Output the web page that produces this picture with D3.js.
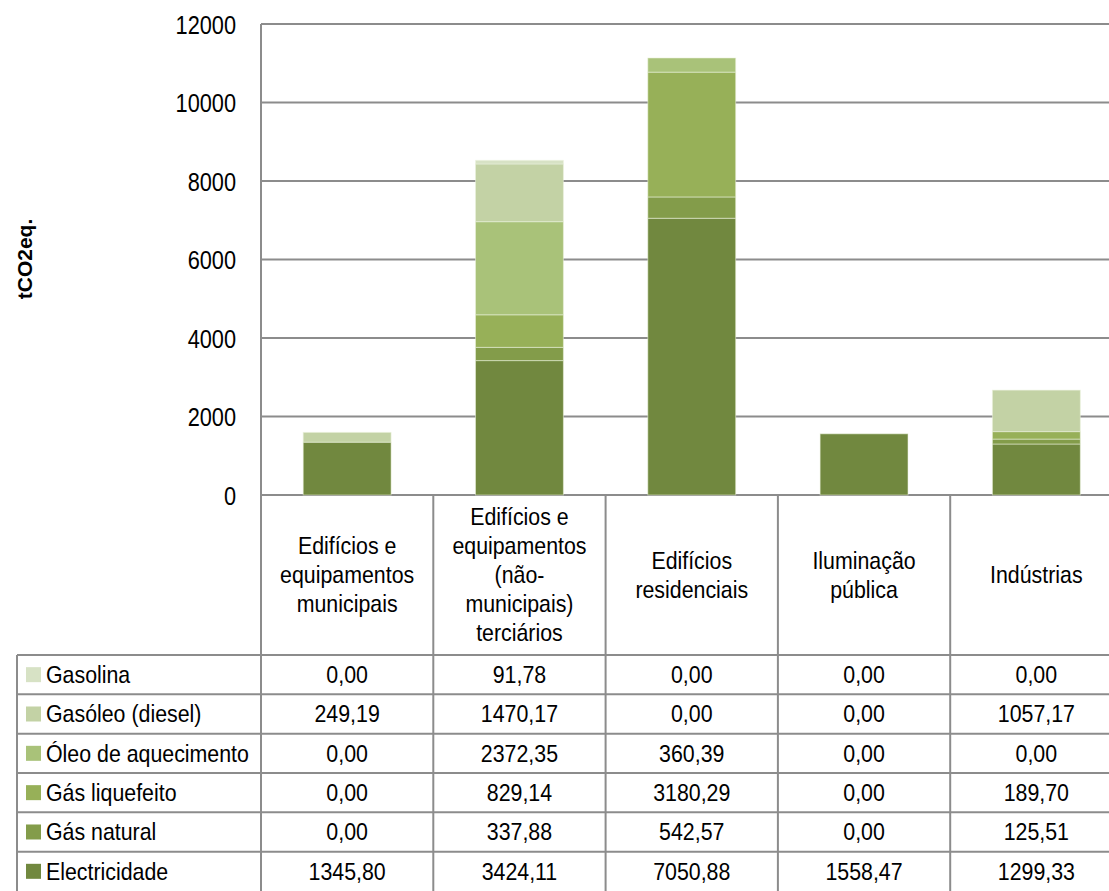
<!DOCTYPE html>
<html>
<head>
<meta charset="utf-8">
<script src="https://cdn.jsdelivr.net/npm/d3@7"></script>
<style>
  html, body { margin: 0; padding: 0; background: #fff; }
  svg { display: block; }
  text { font-family: "Liberation Sans", Arial, sans-serif; fill: #000; }
</style>
</head>
<body>
<svg id="chart" width="1109" height="891"></svg>
<script>
// Emission sectors (columns) and their header text lines
const categories = [
  "Edifícios e equipamentos municipais",
  "Edifícios e equipamentos (não-municipais) terciários",
  "Edifícios residenciais",
  "Iluminação pública",
  "Indústrias"
];
const categoryLines = [
  ["Edifícios e", "equipamentos", "municipais"],
  ["Edifícios e", "equipamentos", "(não-", "municipais)", "terciários"],
  ["Edifícios", "residenciais"],
  ["Iluminação", "pública"],
  ["Indústrias"]
];

// Energy sources, listed bottom of stack first
const sources = ["Electricidade", "Gás natural", "Gás liquefeito", "Óleo de aquecimento", "Gasóleo (diesel)", "Gasolina"];
const colors  = ["#71883f", "#839c4a", "#97b058", "#a9c279", "#c3d2a5", "#d7e2c5"];

// tCO2eq per source and sector
const electricidade      = [1345.80, 3424.11, 7050.88, 1558.47, 1299.33];
const gasNatural         = [0.00, 337.88, 542.57, 0.00, 125.51];
const gasLiquefeito      = [0.00, 829.14, 3180.29, 0.00, 189.70];
const oleoAquecimento    = [0.00, 2372.35, 360.39, 0.00, 0.00];
const gasoleo            = [249.19, 1470.17, 0.00, 0.00, 1057.17];
const gasolina           = [0.00, 91.78, 0.00, 0.00, 0.00];

const yTicks = [0, 2000, 4000, 6000, 8000, 10000, 12000];

const seriesValues = [electricidade, gasNatural, gasLiquefeito, oleoAquecimento, gasoleo, gasolina];

const rows = categories.map((c, i) => {
  const r = { category: c };
  sources.forEach((s, k) => { r[s] = seriesValues[k][i]; });
  return r;
});

const svg = d3.select("#chart");
const gridColor = "#8c8c8c";
const squeeze = 0.89;   // condensed look for all labels

// compress a text element horizontally around its anchor x
function condense(sel, ax) {
  sel.attr("transform", `translate(${ax},0) scale(${squeeze},1) translate(${-ax},0)`);
}

const plotLeft = 261, plotTop = 24, plotBottom = 495;
const step = 172.3;
const plotRight = plotLeft + step * categories.length;

const x = d3.scaleBand()
  .domain(categories)
  .range([plotLeft, plotRight])
  .paddingInner(0.49)
  .paddingOuter(0.245);

const y = d3.scaleLinear().domain([0, 12000]).range([plotBottom, plotTop]);

// horizontal gridlines
svg.append("g")
  .selectAll("line")
  .data(yTicks)
  .join("line")
  .attr("x1", plotLeft).attr("x2", plotRight)
  .attr("y1", d => y(d)).attr("y2", d => y(d))
  .attr("stroke", gridColor).attr("stroke-width", 2);

// y axis labels
const yAxis = d3.axisLeft(y).tickValues(yTicks).tickSize(0).tickPadding(0).tickFormat(d3.format("d"));
const yg = svg.append("g").attr("transform", `translate(${plotLeft},0)`).call(yAxis);
yg.select(".domain").remove();
yg.selectAll("text")
  .attr("font-size", 25)
  .attr("font-family", null)
  .attr("x", 0)
  .attr("dy", "0.36em")
  .attr("transform", `translate(-25,0) scale(0.87,1)`);

// axis title
svg.append("text")
  .attr("transform", `translate(32,259) rotate(-90)`)
  .attr("text-anchor", "middle")
  .attr("font-size", 21)
  .attr("font-weight", "bold")
  .text("tCO2eq.");

// stacked bars
const stack = d3.stack().keys(sources)(rows);
svg.append("g")
  .selectAll("g")
  .data(stack)
  .join("g")
  .attr("fill", (d, i) => colors[i])
  .selectAll("rect")
  .data(d => d.filter(p => p[1] - p[0] > 0))
  .join("rect")
  .attr("x", d => x(d.data.category))
  .attr("width", x.bandwidth())
  .attr("y", d => y(d[1]))
  .attr("height", d => y(d[0]) - y(d[1]))
  .attr("stroke", "rgba(235,242,220,0.55)")
  .attr("stroke-width", 1);

// data table
const fmt = d3.formatLocale({ decimal: ",", thousands: "", grouping: [3], currency: ["", ""] }).format(".2f");
const tableLeft = 17;
const headerBottom = 655;
const rowH = 39.33;
const tableBottom = 891;
const colEdges = categories.map((c, i) => plotLeft + i * step).concat([plotRight]);
const tableFont = 24;

const table = svg.append("g");

// vertical lines
table.append("line")
  .attr("x1", plotLeft).attr("x2", plotLeft)
  .attr("y1", plotTop).attr("y2", tableBottom)
  .attr("stroke", gridColor).attr("stroke-width", 2);
table.selectAll("line.col")
  .data(colEdges.slice(1))
  .join("line").attr("class", "col")
  .attr("x1", d => d).attr("x2", d => d)
  .attr("y1", plotBottom).attr("y2", tableBottom)
  .attr("stroke", gridColor).attr("stroke-width", 2);
table.append("line")
  .attr("x1", tableLeft).attr("x2", tableLeft)
  .attr("y1", headerBottom).attr("y2", tableBottom)
  .attr("stroke", gridColor).attr("stroke-width", 2);

// horizontal lines
const rowOrder = sources.slice().reverse();
table.selectAll("line.row")
  .data(d3.range(rowOrder.length))
  .join("line").attr("class", "row")
  .attr("x1", tableLeft).attr("x2", plotRight)
  .attr("y1", i => headerBottom + i * rowH).attr("y2", i => headerBottom + i * rowH)
  .attr("stroke", gridColor).attr("stroke-width", 2);

// category headers
const lineH = 29;
categoryLines.forEach((lines, i) => {
  const cx = x(categories[i]) + x.bandwidth() / 2;
  const cy = (plotBottom + headerBottom) / 2;
  const t = table.append("text")
    .attr("text-anchor", "middle")
    .attr("font-size", tableFont)
    .call(condense, cx);
  lines.forEach((ln, j) => {
    t.append("tspan")
      .attr("x", cx)
      .attr("y", cy + (j - (lines.length - 1) / 2) * lineH)
      .attr("dy", "0.35em")
      .text(ln);
  });
});

// row labels with colour keys
rowOrder.forEach((s, r) => {
  const cy = headerBottom + r * rowH + rowH / 2;
  const k = sources.indexOf(s);
  table.append("rect")
    .attr("x", 26).attr("y", cy - 7.5)
    .attr("width", 15).attr("height", 15)
    .attr("fill", colors[k]);
  table.append("text")
    .attr("x", 46).attr("y", cy).attr("dy", "0.35em")
    .attr("font-size", tableFont)
    .call(condense, 46)
    .text(s);
  categories.forEach((c, i) => {
    const cx = x(c) + x.bandwidth() / 2;
    table.append("text")
      .attr("x", cx)
      .attr("y", cy).attr("dy", "0.35em")
      .attr("text-anchor", "middle")
      .attr("font-size", tableFont)
      .call(condense, cx)
      .text(fmt(seriesValues[k][i]));
  });
});
</script>
</body>
</html>
